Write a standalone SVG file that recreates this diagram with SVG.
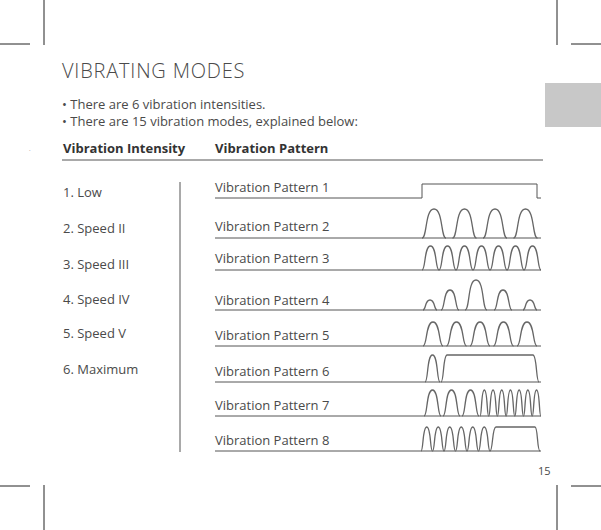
<svg xmlns="http://www.w3.org/2000/svg" xmlns:xlink="http://www.w3.org/1999/xlink" width="601" height="530" viewBox="0 0 601 530">
<style>
text{font-family:"Open Sans","DejaVu Sans",sans-serif;fill:#4a4a4a;font-size:13px}
.b{font-weight:bold;fill:#333}
.ln{stroke:#555;stroke-width:1;fill:none}
.w{stroke:#666;stroke-width:1.3;fill:none;vector-effect:non-scaling-stroke}
.crop{stroke:#222;stroke-width:1}
</style>
<defs><path id="p" class="w" d="M0,0 C0.22,0 0.12,-1 0.5,-1 C0.88,-1 0.78,0 1,0"/></defs>
<rect width="601" height="530" fill="#fff"/>
<g class="crop">
<line x1="44" y1="0" x2="44" y2="45"/><line x1="0" y1="44" x2="30" y2="44"/>
<line x1="557" y1="0" x2="557" y2="45"/><line x1="571" y1="44" x2="601" y2="44"/>
<line x1="44" y1="485" x2="44" y2="530"/><line x1="0" y1="486" x2="30" y2="486"/>
<line x1="557" y1="485" x2="557" y2="530"/><line x1="571" y1="486" x2="601" y2="486"/>
</g>
<rect x="545" y="83" width="56" height="44" fill="#c8c8c8"/>
<text x="62" y="78" style="font-size:20px;font-weight:300;letter-spacing:0.8px">VIBRATING MODES</text>
<text x="62" y="109">• There are 6 vibration intensities.</text>
<text x="62" y="126">• There are 15 vibration modes, explained below:</text>
<text x="29" y="152" style="font-size:6px">·</text>
<text x="63" y="153" class="b">Vibration Intensity</text>
<text x="215" y="153" class="b">Vibration Pattern</text>
<line x1="62" y1="160" x2="543" y2="160" class="ln"/>
<line x1="180" y1="182" x2="180" y2="452" class="ln"/>
<g id="intensities">
<text x="63" y="197">1. Low</text>
<text x="63" y="233">2. Speed II</text>
<text x="63" y="269">3. Speed III</text>
<text x="63" y="304">4. Speed IV</text>
<text x="63" y="338">5. Speed V</text>
<text x="63" y="374">6. Maximum</text>
</g>
<g id="p1"><text x="215" y="192">Vibration Pattern 1</text><path class="ln" d="M215,198 H422 V184 H537 V198 H541"/></g>
<g id="p2"><text x="215" y="231">Vibration Pattern 2</text><line class="ln" x1="215" y1="238" x2="541" y2="238"/>
<use xlink:href="#p" transform="translate(422,238) scale(24,29)"/><use xlink:href="#p" transform="translate(452.5,238) scale(24,29)"/><use xlink:href="#p" transform="translate(483,238) scale(24,29)"/><use xlink:href="#p" transform="translate(513.5,238) scale(24,29)"/></g>
<g id="p3"><text x="215" y="263">Vibration Pattern 3</text><line class="ln" x1="215" y1="270" x2="541" y2="270"/>
<use xlink:href="#p" transform="translate(422,270) scale(17,24)"/><use xlink:href="#p" transform="translate(439,270) scale(17,24)"/><use xlink:href="#p" transform="translate(456,270) scale(17,24)"/><use xlink:href="#p" transform="translate(473,270) scale(17,24)"/><use xlink:href="#p" transform="translate(490,270) scale(17,24)"/><use xlink:href="#p" transform="translate(507,270) scale(17,24)"/><use xlink:href="#p" transform="translate(524,270) scale(17,24)"/></g>
<g id="p4"><text x="215" y="305">Vibration Pattern 4</text><line class="ln" x1="215" y1="310" x2="541" y2="310"/>
<use xlink:href="#p" transform="translate(423,310) scale(14,10)"/><use xlink:href="#p" transform="translate(441,310) scale(18,20)"/><use xlink:href="#p" transform="translate(465,310) scale(22,30)"/><use xlink:href="#p" transform="translate(494,310) scale(18,20)"/><use xlink:href="#p" transform="translate(523,310) scale(14,10)"/></g>
<g id="p5"><text x="215" y="340">Vibration Pattern 5</text><line class="ln" x1="215" y1="346" x2="541" y2="346"/>
<use xlink:href="#p" transform="translate(423,346) scale(20,24)"/><use xlink:href="#p" transform="translate(446.5,346) scale(20,24)"/><use xlink:href="#p" transform="translate(470,346) scale(20,24)"/><use xlink:href="#p" transform="translate(493.5,346) scale(20,24)"/><use xlink:href="#p" transform="translate(517,346) scale(20,24)"/></g>
<g id="p6"><text x="215" y="376">Vibration Pattern 6</text><line class="ln" x1="215" y1="382" x2="541" y2="382"/>
<use xlink:href="#p" transform="translate(425,382) scale(15,27)"/>
<path class="w" d="M441,382 C444,382 443,355 447,355 L533,355 C537,355 536,382 539,382"/></g>
<g id="p7"><text x="215" y="410">Vibration Pattern 7</text><line class="ln" x1="215" y1="416" x2="541" y2="416"/>
<use xlink:href="#p" transform="translate(424,416) scale(17,26)"/><use xlink:href="#p" transform="translate(443,416) scale(17,26)"/><use xlink:href="#p" transform="translate(462,416) scale(17,26)"/>
<use xlink:href="#p" transform="translate(480,416) scale(8.7,26)"/><use xlink:href="#p" transform="translate(488.7,416) scale(8.7,26)"/><use xlink:href="#p" transform="translate(497.4,416) scale(8.7,26)"/><use xlink:href="#p" transform="translate(506.1,416) scale(8.7,26)"/><use xlink:href="#p" transform="translate(514.8,416) scale(8.7,26)"/><use xlink:href="#p" transform="translate(523.5,416) scale(8.7,26)"/><use xlink:href="#p" transform="translate(532.2,416) scale(8.7,26)"/></g>
<g id="p8"><text x="215" y="445">Vibration Pattern 8</text><line class="ln" x1="215" y1="451" x2="541" y2="451"/>
<use xlink:href="#p" transform="translate(421,451) scale(11.5,24)"/><use xlink:href="#p" transform="translate(432.5,451) scale(11.5,24)"/><use xlink:href="#p" transform="translate(444,451) scale(11.5,24)"/><use xlink:href="#p" transform="translate(455.5,451) scale(11.5,24)"/><use xlink:href="#p" transform="translate(467,451) scale(11.5,24)"/><use xlink:href="#p" transform="translate(478.5,451) scale(11.5,24)"/>
<path class="w" d="M490,451 C493,451 492,427 496,427 L535,427 C538,427 537,451 540,451"/></g>
<text x="538" y="475" style="font-size:11px">15</text>
</svg>
